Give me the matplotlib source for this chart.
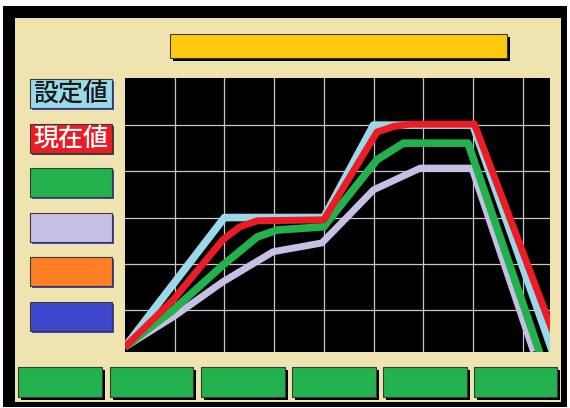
import matplotlib
matplotlib.use("Agg")
import matplotlib.pyplot as plt
from matplotlib.patches import Rectangle

plt.rcParams['font.family'] = ['Noto Sans CJK JP', 'DejaVu Sans']

# trend data (x in grid cells, y in grid rows)
set_x = [0, 2.0, 4.0, 5.0, 7.0, 8.6]
set_y = [0.2, 3.0, 3.0, 5.0, 5.0, 0.1]

cur_x = [0, 0.97, 1.97, 2.31, 2.66, 4.0, 5.07, 5.4, 5.73, 7.03, 8.6]
cur_y = [0.2, 1.22, 2.52, 2.8, 2.93, 2.95, 4.85, 4.97, 5.02, 5.02, 0.55]

grn_x = [0, 0.97, 1.97, 2.66, 3.06, 4.0, 4.55, 5.07, 5.6, 6.9, 8.35]
grn_y = [0.2, 1.0, 1.97, 2.58, 2.73, 2.8, 3.55, 4.25, 4.61, 4.61, 0.05]

lav_x = [0, 0.97, 1.97, 2.98, 3.96, 4.47, 5.0, 5.94, 6.98, 8.22]
lav_y = [0.2, 0.85, 1.61, 2.26, 2.45, 3.01, 3.6, 4.07, 4.07, 0.1]

side_labels = ['設定値', '現在値', '', '', '', '']
side_colors = ['#99d9ea', '#ed1c24', '#22b14c', '#c8bfe7', '#ff7f27', '#3f48cc']
side_text = ['#1a1a1a', 'white', 'white', 'white', 'white', 'white']
side_shadow = ['#3f48cc', '#404040', '#3f48cc', '#3f48cc', '#3f48cc', '#3f48cc']

W, H = 570, 408
fig = plt.figure(figsize=(W / 100, H / 100), dpi=100)
fig.patch.set_facecolor('white')


def rect(x0, y0, x1, y1, fc, ec='none', lw=0, z=0):
    r = Rectangle((x0 / W, 1 - y1 / H), (x1 - x0) / W, (y1 - y0) / H,
                  transform=fig.transFigure, facecolor=fc, edgecolor=ec,
                  linewidth=lw, zorder=z)
    fig.add_artist(r)


def button(x0, y0, x1, y1, fc, shadow='black', off=3):
    rect(x0 + off, y0 + off, x1 + off, y1 + off, shadow, z=1)
    rect(x0, y0, x1, y1, fc, ec='#3a3a3a', lw=0.8, z=2)


# frame
rect(3, 6, 567, 407, 'black')
rect(15, 18, 561, 402, '#efe4b0', z=0.5)

# title bar
button(170, 34, 507, 58, '#ffc90e')

# side buttons
tops = [79, 124, 168, 213, 257, 302]
for i, t in enumerate(tops):
    button(30, t, 112, t + 29, side_colors[i], shadow=side_shadow[i], off=2)
    if side_labels[i]:
        fig.text(71 / W, 1 - (t + 15) / H, side_labels[i], ha='center', va='center',
                 fontsize=18, color=side_text[i], fontweight='medium', zorder=3)

# bottom buttons
for x0, x1 in [(18, 102), (110, 193), (201, 285), (292, 376), (383, 467), (474, 557)]:
    button(x0, 367, x1, 397, '#22b14c')

# trend chart
ax = fig.add_axes([125 / W, 1 - 352 / H, 425 / W, 274 / H], zorder=5)
ax.set_facecolor('black')
ax.set_xlim(0, 8.55)
ax.set_ylim(0.09, 6.02)
ax.set_xticks(range(1, 9))
ax.set_yticks(range(1, 6))
ax.grid(True, color='#c8c8c8', linewidth=0.9)
ax.tick_params(length=0, labelbottom=False, labelleft=False)
for s in ax.spines.values():
    s.set_visible(False)

ax.plot(set_x, set_y, color='#99d9ea', linewidth=5.5, solid_capstyle='butt')
ax.plot(lav_x, lav_y, color='#c8bfe7', linewidth=5, solid_capstyle='butt',
        solid_joinstyle='round')
ax.plot(grn_x, grn_y, color='#22b14c', linewidth=5.5, solid_capstyle='butt',
        solid_joinstyle='round')
ax.plot(cur_x, cur_y, color='#ed1c24', linewidth=5, solid_capstyle='butt',
        solid_joinstyle='round')

fig.savefig('out.png', dpi=100)
